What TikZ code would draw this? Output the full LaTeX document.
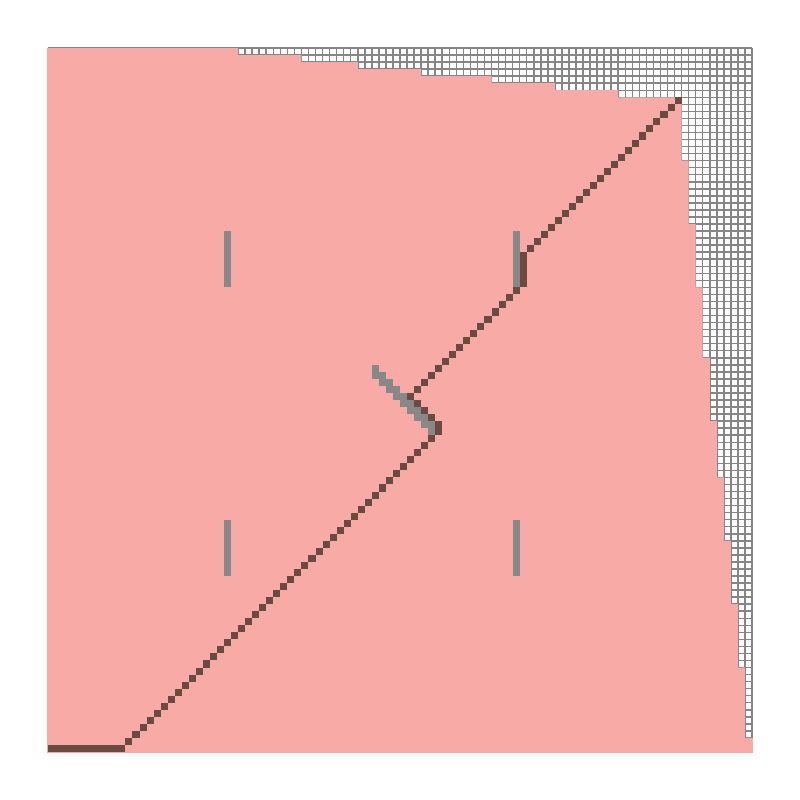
\documentclass[tikz,border=0pt]{standalone}
\definecolor{pinkc}{HTML}{F7AAA6}
\definecolor{darkc}{HTML}{6B4A3F}
\definecolor{grayc}{HTML}{888888}
\definecolor{gridc}{HTML}{858585}
\begin{document}
\begin{tikzpicture}[x=1mm,y=1mm,
  gridline/.style={draw=gridc, line width=0.6pt},
  darkcell/.style={fill=darkc},
  graycell/.style={fill=grayc},
  region/.style={fill=pinkc}]
\useasboundingbox (-6.818,-106.818) rectangle (106.818,6.818);
% white grid area
\fill[white] (0,-100) rectangle (100,0);
\foreach \i in {0,...,100} {
  \draw[gridline] (\i,-100) -- (\i,0);
  \draw[gridline] (0,{-\i}) -- (100,{-\i});
}
% pink region
\fill[region] (-0.12,0) -- (27,0) -- (27,-1) -- (36,-1) -- (36,-2) -- (44,-2) -- (44,-3)
  -- (53,-3) -- (53,-4) -- (63,-4) -- (63,-5) -- (72,-5) -- (72,-6) -- (81,-6) -- (81,-7)
  -- (90,-7) -- (90,-16) -- (91,-16) -- (91,-25) -- (92,-25) -- (92,-34) -- (93,-34)
  -- (93,-44) -- (94,-44) -- (94,-53) -- (95,-53) -- (95,-61) -- (96,-61) -- (96,-70)
  -- (97,-70) -- (97,-79) -- (98,-79) -- (98,-88) -- (99,-88) -- (99,-98) -- (100.12,-98)
  -- (100.12,-100.12) -- (-0.12,-100.12) -- cycle;
% gray bars
\fill[graycell] (25,-26) rectangle (26,-34);
\fill[graycell] (66,-26) rectangle (67,-34);
\fill[graycell] (25,-67) rectangle (26,-75);
\fill[graycell] (66,-67) rectangle (67,-75);
% gray staircase
\foreach \c in {46,...,54} \fill[graycell] (\c,{1-\c}) rectangle ({\c+1},{-\c-1});
% dark path
\foreach \r in {7,...,29} \fill[darkcell] ({96-\r},{-\r}) rectangle ++(1,-1);
\fill[darkcell] (67,-30) rectangle (68,-34);
\foreach \r in {34,...,49} \fill[darkcell] ({100-\r},{-\r}) rectangle ++(1,-1);
\foreach \r in {50,...,53} \fill[darkcell] ({\r+2},{-\r}) rectangle ++(1,-1);
\fill[darkcell] (55,-54) rectangle (56,-55);
\foreach \r in {55,...,98} \fill[darkcell] ({109-\r},{-\r}) rectangle ++(1,-1);
\fill[darkcell] (0,-99) rectangle (11,-100);
\end{tikzpicture}
\end{document}
